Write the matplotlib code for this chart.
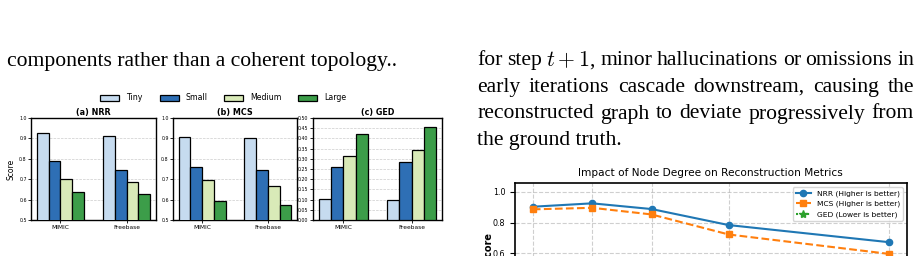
import numpy as np
import matplotlib
matplotlib.use("Agg")
import matplotlib.pyplot as plt
from matplotlib.ticker import MultipleLocator

W, H = 921, 256

# paper text around the figures
left_text = "components rather than a coherent topology.."
right_lines = [
    "for step $t+1$, minor hallucinations or omissions in",
    "early iterations cascade downstream, causing the",
    "reconstructed graph to deviate progressively from",
    "the ground truth.",
]

# grouped bar charts (rows = graph size, cols = dataset)
datasets = ["MIMIC", "Freebase"]
sizes = ["Tiny", "Small", "Medium", "Large"]
size_colors = ["#c6dbef", "#2e6fb5", "#d9eab8", "#3c9d49"]
nrr_vals = [[0.925, 0.914], [0.790, 0.746], [0.703, 0.684], [0.639, 0.626]]
mcs_vals = [[0.907, 0.902], [0.759, 0.746], [0.697, 0.667], [0.592, 0.572]]
ged_vals = [[0.104, 0.097], [0.259, 0.282], [0.316, 0.341], [0.421, 0.454]]
panel_titles = ["(a) NRR", "(b) MCS", "(c) GED"]

# line chart: node degree vs metrics
degree = [2, 3, 4, 5.3, 8]
nrr_line = [0.903, 0.925, 0.888, 0.784, 0.673]
mcs_line = [0.886, 0.896, 0.853, 0.723, 0.597]
ged_line = [0.28, 0.30, 0.35, 0.42, 0.50]

plt.rcParams["mathtext.fontset"] = "cm"
fig = plt.figure(figsize=(W / 100, H / 100), dpi=100)


def fx(x):
    return x / W


def fy(y):
    return 1 - y / H


serif = "Liberation Serif"
fs_body = 15.6

# body text
fig.text(fx(7), fy(65.7), left_text, fontsize=fs_body, family=serif, va="baseline")

# right column, justified like the paper
renderer = fig.canvas.get_renderer()


def measure(s):
    t = fig.text(0, 0, s, fontsize=fs_body, family=serif)
    w = t.get_window_extent(renderer).width
    t.remove()
    return w


x0, x1 = 477, 914
base = 65.3
for k, line in enumerate(right_lines):
    y = base + k * 26.6
    if k == len(right_lines) - 1:
        fig.text(fx(x0), fy(y), line, fontsize=fs_body, family=serif, va="baseline")
        continue
    words = line.split(" ")
    extra = (x1 - x0 - measure(line)) / (len(words) - 1)
    for i, w in enumerate(words):
        right = measure(" ".join(words[:i + 1]))
        left = right - measure(w)
        fig.text(fx(x0 + left + i * extra), fy(y), w, fontsize=fs_body,
                 family=serif, va="baseline")

# bar panels
boxes = [(31, 156), (173, 297), (312.7, 442.3)]
xs = np.arange(len(datasets))
bw = 0.18
all_vals = [nrr_vals, mcs_vals, ged_vals]
bar_axes = []
for j, (l, r) in enumerate(boxes):
    ax = fig.add_axes([fx(l), fy(220), (r - l) / W, 102 / H])
    bar_axes.append(ax)
    vals = all_vals[j]
    for i, s in enumerate(sizes):
        ax.bar(xs + (i - 1.5) * bw, vals[i], bw, color=size_colors[i],
               edgecolor="black", linewidth=0.9, label=s, zorder=3)
    ax.set_title(panel_titles[j], fontsize=5.8, fontweight="bold", pad=2.5)
    ax.set_xticks(xs)
    ax.set_xticklabels(datasets, fontsize=4.2)
    ax.tick_params(axis="x", length=2, pad=1.5, width=0.6)
    ax.tick_params(axis="y", labelsize=3.4, length=2, pad=1, width=0.6)
    ax.grid(axis="y", linestyle="--", color="gray", alpha=0.4, linewidth=0.5, zorder=0)
    for sp in ax.spines.values():
        sp.set_linewidth(1.0)
    if j < 2:
        ax.set_ylim(0.5, 1.0)
        ax.yaxis.set_major_locator(MultipleLocator(0.1))
    else:
        ax.set_ylim(0, 0.5)
        ax.yaxis.set_major_locator(MultipleLocator(0.05))
bar_axes[0].set_ylabel("Score", fontsize=5.5, labelpad=3)

handles, labels = bar_axes[0].get_legend_handles_labels()
fig.legend(handles, labels, loc="center", bbox_to_anchor=(fx(223.5), fy(98)),
           ncol=4, frameon=False, fontsize=5.7, handlelength=2.4,
           handletextpad=0.9, columnspacing=2.1)

# line chart (runs past the bottom edge of the page crop)
ax4 = fig.add_axes([fx(515), fy(312), 391.7 / W, (312 - 183.3) / H])
ax4.plot(degree, nrr_line, "-o", color="#1f77b4", lw=1.5, ms=4.5, label="NRR (Higher is better)")
ax4.plot(degree, mcs_line, "--s", color="#ff7f0e", lw=1.5, ms=4.5, label="MCS (Higher is better)")
ax4.plot(degree, ged_line, ":*", color="#2ca02c", lw=1.5, ms=6, label="GED (Lower is better)")
ax4.set_xticks(degree)
ax4.set_xticklabels([])
ax4.set_ylim(0.22, 1.055)
ax4.set_title("Impact of Node Degree on Reconstruction Metrics", fontsize=7.6, pad=5)
ax4.set_ylabel("Score", fontsize=7, fontweight="bold")
ax4.yaxis.set_label_coords(-0.056, 0.5)
ax4.tick_params(labelsize=5.8, width=0.8)
ax4.grid(True, linestyle="--", alpha=0.6)
for sp in ax4.spines.values():
    sp.set_linewidth(1.2)
ax4.legend(loc="upper right", fontsize=5.4)

fig.savefig("out.png", dpi=100)
